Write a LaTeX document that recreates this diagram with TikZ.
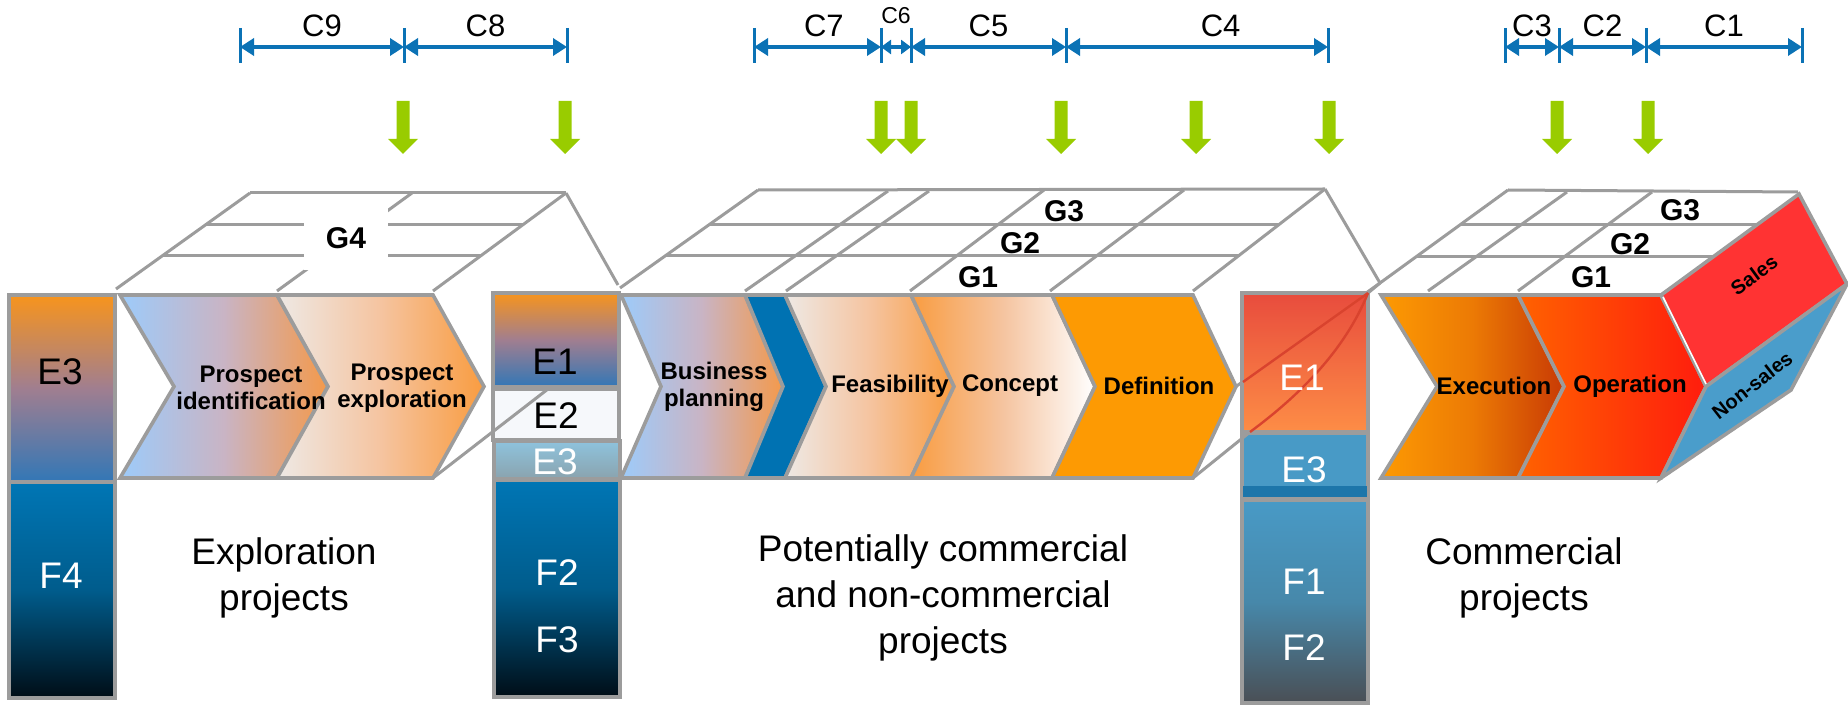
\documentclass[tikz,border=0pt]{standalone}
\usepackage{fontspec}
\setmainfont{Liberation Sans}
\usetikzlibrary{arrows.meta}

\definecolor{linegray}{HTML}{9C9C9C}
\definecolor{dimblue}{HTML}{0B72B5}
\definecolor{arrowgreen}{HTML}{99CC00}
\definecolor{fadeorange}{HTML}{F7941D}
\definecolor{mauve}{HTML}{A07E90}
\definecolor{lowblue}{HTML}{3277B6}
\definecolor{fblue}{HTML}{0076B5}
\definecolor{fmid}{HTML}{005C8C}
\definecolor{fdark}{HTML}{000D16}
\definecolor{palewhite}{HTML}{F6F8FB}
\definecolor{haze}{HTML}{8EC3DD}
\definecolor{hazelow}{HTML}{8AA3AE}
\definecolor{firered}{HTML}{E84C3D}
\definecolor{fireorange}{HTML}{FD8D46}
\definecolor{seablue}{HTML}{489AC6}
\definecolor{seadark}{HTML}{1D76AA}
\definecolor{slate}{HTML}{4A4F55}
\definecolor{slatemid}{HTML}{4788AA}
\definecolor{seered}{HTML}{D9432E}
\definecolor{skyblue}{HTML}{9DCBFA}
\definecolor{lilac}{HTML}{C9B4C4}
\definecolor{peach}{HTML}{F4994A}
\definecolor{shell}{HTML}{EEE9E5}
\definecolor{apricot}{HTML}{F5C4A0}
\definecolor{ripe}{HTML}{F99C40}
\definecolor{planblue}{HTML}{0072B2}
\definecolor{deforange}{HTML}{FD9A03}
\definecolor{burnt}{HTML}{C83A05}
\definecolor{ember}{HTML}{EC7A05}
\definecolor{flame}{HTML}{FF6200}
\definecolor{scarlet}{HTML}{FF1C0D}
\definecolor{salesred}{HTML}{FF3333}
\definecolor{nonsales}{HTML}{4A9DCB}

\tikzset{
  frame/.style={draw=linegray,line width=1.8pt},
  gridline/.style={draw=linegray,line width=1.5pt},
  seeline/.style={draw=seered,line width=1.2pt},
  chevbox/.style={draw=linegray,line width=1.8pt,line join=miter},
  steplabel/.style={font=\bfseries\fontsize{12}{13.5}\selectfont,align=center},
  glabel/.style={font=\bfseries\fontsize{15}{16}\selectfont},
  boxlabel/.style={font=\fontsize{18.5}{20}\selectfont},
  caption/.style={font=\fontsize{18.5}{23}\selectfont,align=center},
  dimline/.style={draw=dimblue,line width=2pt,<->,>={Triangle[length=7pt,width=8.5pt]}},
  dimtick/.style={draw=dimblue,line width=1.5pt},
  dimlabel/.style={font=\fontsize{15.5}{17}\selectfont,yshift=10.5pt},
  facelabel/.style={font=\bfseries\fontsize{10}{12}\selectfont,inner sep=1pt},
  shadeA/.style={left color=skyblue,right color=peach,middle color=lilac},
  shadeB/.style={left color=shell,right color=ripe,middle color=apricot},
  shadeC/.style={left color=ripe,right color=white,middle color=apricot},
  shadeD/.style={left color=deforange,right color=burnt,middle color=ember},
  shadeE/.style={left color=flame,right color=scarlet},
}

% #1 fill, #2 left x, #3 notch, #4 shoulder x, #5 tip
\newcommand{\chev}[5]{\draw[chevbox,#1] (#2,295) -- (#4,295) -- ({#4+#5},386.5) -- (#4,478) -- (#2,478) -- ({#2+#3},386.5) -- cycle;}
\newcommand{\greenarrow}[1]{\fill[arrowgreen] ({#1-6.5},101) -- ({#1+6.5},101) -- ({#1+6.5},139) -- ({#1+15},139) -- (#1,154) -- ({#1-15},139) -- ({#1-6.5},139) -- cycle;}

\begin{document}
\begin{tikzpicture}[x=0.5pt,y=-0.5pt]
    \useasboundingbox (0,0) rectangle (1848,705);

    \foreach \n/\tx in {a/240,b/404,c/567,d/754,e/881,f/911,g/1066,h/1328,i/1505,j/1559,k/1646,l/1802}{
        \coordinate (\n) at (\tx,47);
        \draw[dimtick] (\tx,28) -- (\tx,63);
    }
    \draw[dimline] (a) -- node[dimlabel] (c9) {C9} (b);
    \draw[dimline] (b) -- node[dimlabel] (c8) {C8} (c);
    \draw[dimline] (d) -- node[dimlabel,pos=.55] (c7) {C7} (e);
    \draw[dimline,>={Triangle[length=5pt,width=7pt]}] (e) -- node[dimlabel,yshift=5pt,font=\fontsize{11.5}{12}\selectfont] (c6) {C6} (f);
    \draw[dimline] (f) -- node[dimlabel] (c5) {C5} (g);
    \draw[dimline] (g) -- node[dimlabel,pos=.59] (c4) {C4} (h);
    \draw[dimline] (i) -- node[dimlabel] (c3) {C3} (j);
    \draw[dimline] (j) -- node[dimlabel] (c2) {C2} (k);
    \draw[dimline] (k) -- node[dimlabel] (c1) {C1} (l);

    \foreach \gx in {403,565,881,911,1061,1196,1329,1557,1648} {\greenarrow{\gx}}

    % exploration top
    \draw[gridline] (250,193) -- (566,193);
    \draw[gridline] (250,193) -- (116,289);
    \draw[gridline] (412,193) -- (277,291);
    \draw[gridline] (566,193) -- (433,291);
    \draw[gridline] (566,193) -- (618,285);
    \draw[gridline] (205,225) -- (523,225);
    \draw[gridline] (162,256) -- (481,256);
    \node[glabel,fill=white,minimum width=42pt,minimum height=32pt] (g4) at (346,238) {G4};

    % potential top
    \draw[gridline] (758,190) -- (1325,189);
    \draw[gridline] (758,190) -- (620,288);
    \draw[gridline] (888,191) -- (745,291);
    \draw[gridline] (929,191) -- (786,291);
    \draw[gridline] (1044,190) -- (910,291);
    \draw[gridline] (1184,190) -- (1050,291);
    \draw[gridline] (1325,189) -- (1193,291);
    \draw[gridline] (1325,189) -- (1380,283);
    \draw[gridline] (709,224.5) -- (1279,224.5);
    \draw[gridline] (665,256) -- (1238,256);
    \draw[gridline] (1236,386.5) -- (1380,283);

    % commercial top
    \draw[gridline] (1508,190) -- (1798,192);
    \draw[gridline] (1508,190) -- (1380,283);
    \draw[gridline] (1567,192) -- (1428,291);
    \draw[gridline] (1652,192) -- (1518,291);
    \draw[gridline] (1460,225) -- (1756,225);
    \draw[gridline] (1416,256.5) -- (1713,256.5);

    \chev{shadeA}{120}{54}{277}{51}
    \chev{shadeB}{277}{51}{433}{51}
    \chev{shadeA}{621}{40}{745}{38}
    \chev{fill=planblue}{745}{38}{785}{41}
    \chev{shadeB}{785}{41}{911}{43}
    \chev{shadeC}{911}{43}{1052}{43}
    \chev{fill=deforange}{1052}{43}{1193}{43}
    \chev{shadeD}{1381}{56}{1518}{46}
    \chev{shadeE}{1518}{46}{1661}{45}
    \draw[chevbox,fill=salesred] (1661,295) -- (1799,194) -- (1847,284) -- (1706,386.5) -- cycle;
    \draw[chevbox,fill=nonsales] (1706,386.5) -- (1847,284) -- (1791,390) -- (1661,478) -- cycle;
    \draw[white,line width=0.8pt] (1663,297) -- (1706,384);

    \draw[frame,top color=fadeorange,bottom color=lowblue,middle color=mauve] (9,295) rectangle (115,482);
    \draw[frame,top color=fblue,bottom color=fdark,middle color=fmid] (9,482) rectangle (115,698);

    \draw[frame,top color=fadeorange,bottom color=lowblue,middle color=mauve] (493,293) rectangle (619,387);
    \draw[frame,fill=palewhite] (493,389) rectangle (619,440);
    \draw[frame,top color=haze,bottom color=hazelow] (494,441) rectangle (620,479);
    \draw[frame,top color=fblue,bottom color=fdark,middle color=fmid] (494,480) rectangle (620,697);

    \draw[frame,top color=firered,bottom color=fireorange] (1242,293) rectangle (1368,432);
    \draw[frame,fill=seablue] (1242,433) rectangle (1368,498);
    \fill[seadark] (1243,486) rectangle (1367,497);
    \draw[frame,top color=seablue,bottom color=slate,middle color=slatemid] (1242,500) rectangle (1368,703);

    \draw[gridline] (433,478) -- (548,389);
    \draw[gridline] (1193,478) -- (1250,432);
    \draw[gridline] (1368,293) -- (1380,283);
    \draw[seeline] (1243,382) -- (1368,293);
    \draw[seeline] (1250,432) .. controls (1300,395) and (1345,350) .. (1368,293);

    \node[glabel] (g3a) at (1064,211) {G3};
    \node[glabel] (g2a) at (1020,243) {G2};
    \node[glabel] (g1a) at (978,277) {G1};
    \node[glabel] (g3b) at (1680,210) {G3};
    \node[glabel] (g2b) at (1630,244) {G2};
    \node[glabel] (g1b) at (1591,277) {G1};

    \node[steplabel] (ident) at (251,388) {Prospect\\identification};
    \node[steplabel] (explo) at (402,388) {Prospect\\exploration};
    \node[steplabel] (plan) at (714,387) {Business\\planning};
    \node[steplabel] (feas) at (890,386) {Feasibility};
    \node[steplabel] (conc) at (1010,386) {Concept};
    \node[steplabel] (defi) at (1159,386) {Definition};
    \node[steplabel] (exec) at (1494,386) {Execution};
    \node[steplabel] (oper) at (1630,386) {Operation};
    \node[facelabel,rotate=36] (sales) at (1754,275) {Sales};
    \node[facelabel,rotate=38] (nsales) at (1752,385) {Non-sales};

    \node[boxlabel] (e3a) at (60,372) {E3};
    \node[boxlabel,text=white] (f4) at (61,576) {F4};
    \node[boxlabel] (e1a) at (555,362) {E1};
    \node[boxlabel] (e2a) at (556,416) {E2};
    \node[boxlabel,text=white] (e3b) at (555,462) {E3};
    \node[boxlabel,text=white] (f2a) at (557,573) {F2};
    \node[boxlabel,text=white] (f3a) at (557,640) {F3};
    \node[boxlabel,text=white] (e1b) at (1302,378) {E1};
    \node[boxlabel,text=white] (e3c) at (1304,470) {E3};
    \node[boxlabel,text=white] (f1b) at (1304,582) {F1};
    \node[boxlabel,text=white] (f2b) at (1304,648) {F2};

    \node[caption] (expl) at (284,578) {Exploration\\projects};
    \node[caption] (pot) at (943,598) {Potentially commercial\\and non-commercial\\projects};
    \node[caption] (comm) at (1524,578) {Commercial\\projects};
\end{tikzpicture}
\end{document}
